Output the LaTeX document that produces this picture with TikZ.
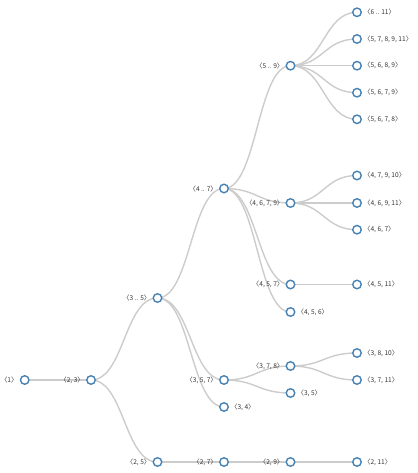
\documentclass[tikz,border=0pt]{standalone}
\usepackage{fontspec}
\newfontfamily\cjk{Noto Sans CJK SC}
\usetikzlibrary{backgrounds,calc}
\definecolor{linkgray}{HTML}{CCCCCC}
\definecolor{nodeblue}{HTML}{4682B4}
\definecolor{txt}{HTML}{333333}
\tikzset{
  x=1bp, y=-1bp,
  tnode/.style={circle, draw=nodeblue, fill=white, line width=1.4bp, minimum size=8.5bp, inner sep=0pt},
  lab/.style={font=\cjk\fontsize{6.6bp}{7bp}\selectfont, text=txt, inner sep=0pt},
  inl/.style={tnode, label={[lab, label distance=1.8bp]left:#1}},
  leaf/.style={tnode, label={[lab, label distance=1.8bp]right:#1}},
  link/.style={draw=linkgray, line width=1.4bp}
}
\newcommand\lnk[2]{\draw[link] let \p1=(#1), \p2=(#2) in (\p1) .. controls ({(\x1+\x2)/2},\y1) and ({(\x1+\x2)/2},\y2) .. (\p2);}
\begin{document}
\begin{tikzpicture}
\useasboundingbox (0,0) rectangle (417,473);
% level 0-1
\node[inl={〈1〉}] (n1) at (24.7,380) {};
\node[inl={〈2, 3〉}] (n23) at (91,380) {};
% level 2
\node[inl={〈3 .. 5〉}] (n35r) at (157.5,298) {};
\node[inl={〈2, 5〉}] (n25) at (157.5,462) {};
% level 3
\node[inl={〈4 .. 7〉}] (n47r) at (224,188.5) {};
\node[inl={〈3, 5, 7〉}] (n357) at (224,380) {};
\node[leaf={〈3, 4〉}] (n34) at (224,407) {};
\node[inl={〈2, 7〉}] (n27) at (224,462) {};
% level 4
\node[inl={〈5 .. 9〉}] (n59r) at (290.5,65.7) {};
\node[inl={〈4, 6, 7, 9〉}] (n4679) at (290.5,203) {};
\node[inl={〈4, 5, 7〉}] (n457) at (290.5,284.5) {};
\node[leaf={〈4, 5, 6〉}] (n456) at (290.5,312) {};
\node[inl={〈3, 7, 8〉}] (n378) at (290.5,366) {};
\node[leaf={〈3, 5〉}] (n35) at (290.5,393) {};
\node[inl={〈2, 9〉}] (n29) at (290.5,462) {};
% level 5
\node[leaf={〈6 .. 11〉}] (a1) at (357,12.3) {};
\node[leaf={〈5, 7, 8, 9, 11〉}] (a2) at (357,39) {};
\node[leaf={〈5, 6, 8, 9〉}] (a3) at (357,65.7) {};
\node[leaf={〈5, 6, 7, 9〉}] (a4) at (357,92.7) {};
\node[leaf={〈5, 6, 7, 8〉}] (a5) at (357,119.3) {};
\node[leaf={〈4, 7, 9, 10〉}] (b1) at (357,175.5) {};
\node[leaf={〈4, 6, 9, 11〉}] (b2) at (357,203) {};
\node[leaf={〈4, 6, 7〉}] (b3) at (357,229.7) {};
\node[leaf={〈4, 5, 11〉}] (c1) at (357,284.5) {};
\node[leaf={〈3, 8, 10〉}] (d1) at (357,353) {};
\node[leaf={〈3, 7, 11〉}] (d2) at (357,380) {};
\node[leaf={〈2, 11〉}] (e1) at (357,462) {};
\begin{scope}[on background layer]
\lnk{n1}{n23}
\lnk{n23}{n35r}
\lnk{n23}{n25}
\lnk{n35r}{n47r}
\lnk{n35r}{n357}
\lnk{n35r}{n34}
\lnk{n25}{n27}
\lnk{n47r}{n59r}
\lnk{n47r}{n4679}
\lnk{n47r}{n457}
\lnk{n47r}{n456}
\lnk{n357}{n378}
\lnk{n357}{n35}
\lnk{n27}{n29}
\lnk{n59r}{a1}
\lnk{n59r}{a2}
\lnk{n59r}{a3}
\lnk{n59r}{a4}
\lnk{n59r}{a5}
\lnk{n4679}{b1}
\lnk{n4679}{b2}
\lnk{n4679}{b3}
\lnk{n457}{c1}
\lnk{n378}{d1}
\lnk{n378}{d2}
\lnk{n29}{e1}
\end{scope}
\end{tikzpicture}
\end{document}
